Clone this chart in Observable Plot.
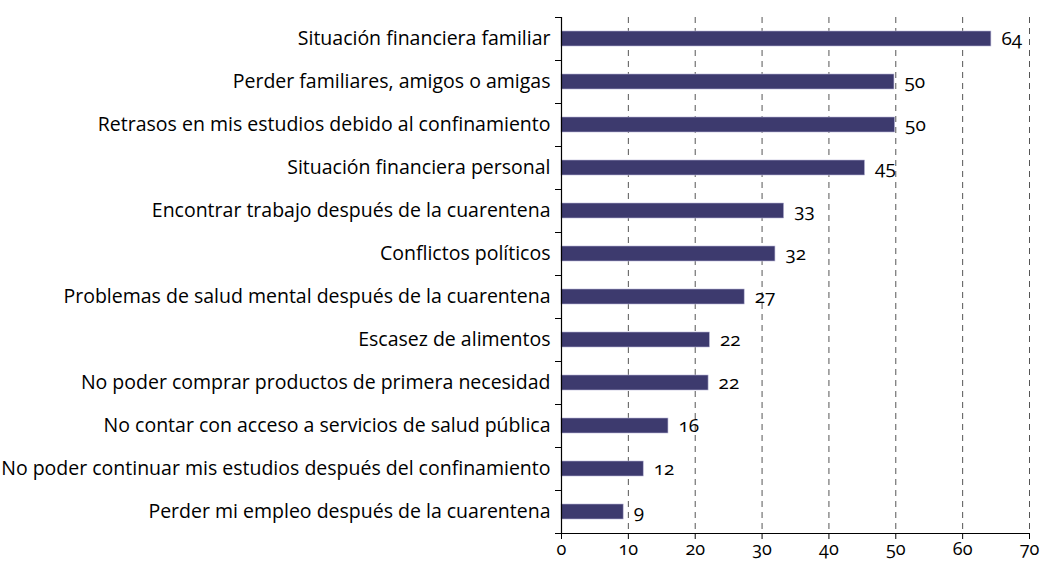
<!DOCTYPE html>
<html>
<head>
<meta charset="utf-8">
<script src="https://cdn.jsdelivr.net/npm/d3@7"></script>
<script src="https://cdn.jsdelivr.net/npm/@observablehq/plot@0.6"></script>
<style>
  html, body { margin: 0; padding: 0; background: #fff; }
  #chart svg { display: block; }
  .num { font-variant-numeric: oldstyle-nums; font-feature-settings: "onum" 1; }
</style>
</head>
<body>
<div id="chart"></div>
<script>
const categories = [
  "Situación financiera familiar",
  "Perder familiares, amigos o amigas",
  "Retrasos en mis estudios debido al confinamiento",
  "Situación financiera personal",
  "Encontrar trabajo después de la cuarentena",
  "Conflictos políticos",
  "Problemas de salud mental después de la cuarentena",
  "Escasez de alimentos",
  "No poder comprar productos de primera necesidad",
  "No contar con acceso a servicios de salud pública",
  "No poder continuar mis estudios después del confinamiento",
  "Perder mi empleo después de la cuarentena"
];
const values = [64.3, 49.8, 49.9, 45.4, 33.3, 32.0, 27.4, 22.2, 22.0, 16.0, 12.3, 9.3];
const labels = ["64", "50", "50", "45", "33", "32", "27", "22", "22", "16", "12", "9"];
const xTicks = [0, 10, 20, 30, 40, 50, 60, 70];
const gridTicks = [10, 20, 30, 40, 50, 60, 70];

const data = categories.map((c, i) => ({cat: c, value: values[i], label: labels[i]}));

const W = 1042, H = 563;
const mTop = 17, mBottom = 30, mLeft = 561, mRight = 13;
const step = (H - mTop - mBottom) / categories.length;
const pxPerUnit = (W - mLeft - mRight) / 70;
const labelFont = "'Open Sans', 'Noto Sans', sans-serif";

const chart = Plot.plot({
  width: W,
  height: H,
  marginTop: mTop,
  marginBottom: mBottom,
  marginLeft: mLeft,
  marginRight: mRight,
  style: {fontFamily: labelFont, fontSize: "19.5px", color: "#000", background: "#fff"},
  x: {domain: [0, 70]},
  y: {domain: categories, paddingInner: 0.65, paddingOuter: 0.325, align: 0.5},
  marks: [
    Plot.gridX(gridTicks, {stroke: "#555", strokeOpacity: 1, strokeWidth: 1, strokeDasharray: "6,5"}),
    Plot.barX(data, {y: "cat", x: "value", fill: "#3d3a6e", stroke: "#b8b6d6", strokeWidth: 0.6}),
    Plot.ruleX([0], {stroke: "#000", strokeWidth: 1.2}),
    // y-axis tick marks at band boundaries
    Plot.ruleY(categories, {y: d => d, x1: -6 / pxPerUnit, x2: 0, dy: -step / 2, stroke: "#000", clip: false}),
    Plot.ruleY([categories[categories.length - 1]], {y: d => d, x1: -6 / pxPerUnit, x2: 0, dy: step / 2, stroke: "#000", clip: false}),
    Plot.axisY({tickSize: 0, tickPadding: 11, label: null, fontSize: 19.5}),
    Plot.axisX(xTicks, {tickSize: 6, tickPadding: 3, label: null, fontSize: 18, className: "num", stroke: "#000"}),
    Plot.ruleY([categories[categories.length - 1]], {y: d => d, x1: 0, x2: 70, dy: step / 2, stroke: "#000", strokeWidth: 1.2}),
    Plot.text(data, {y: "cat", x: "value", text: "label", dx: 10, textAnchor: "start", fontSize: 19, fill: "#000", className: "num"})
  ]
});
document.getElementById("chart").appendChild(chart);
</script>
</body>
</html>
